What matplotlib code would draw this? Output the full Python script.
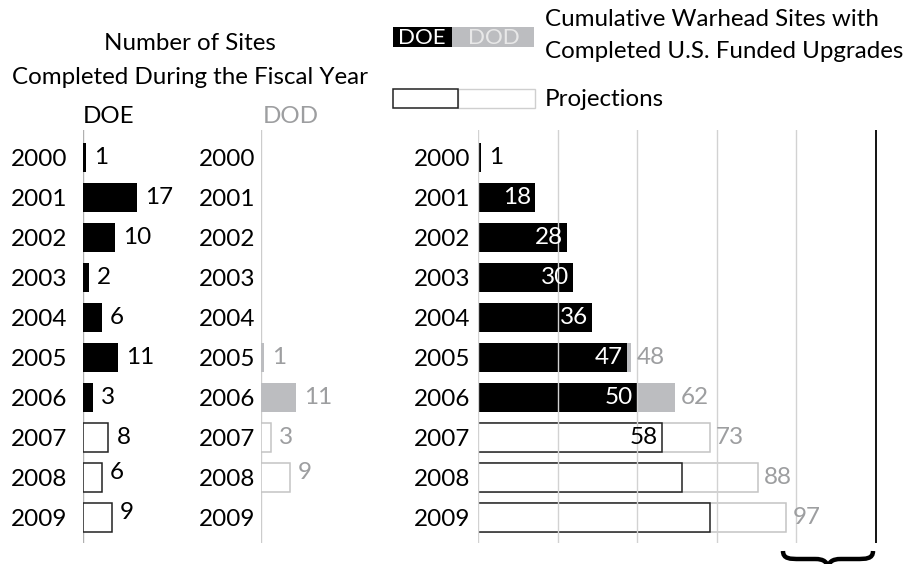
import numpy as np
import matplotlib.pyplot as plt
from matplotlib.patches import Rectangle, PathPatch
from matplotlib.path import Path

plt.rcParams['font.family'] = ['Lato', 'DejaVu Sans']

years = ['2000', '2001', '2002', '2003', '2004', '2005', '2006', '2007', '2008', '2009']
projected = [False, False, False, False, False, False, False, True, True, True]

# sites completed during each fiscal year
doe_annual = [1, 17, 10, 2, 6, 11, 3, 8, 6, 9]
dod_annual = [0, 0, 0, 0, 0, 1, 11, 3, 9, 0]

# cumulative sites (DOE, and DOE + DOD)
doe_cum = [1, 18, 28, 30, 36, 47, 50, 58, 64, 73]
total_cum = [1, 18, 28, 30, 36, 48, 62, 73, 88, 97]

BLACK = '#000000'
GRAY = '#bcbdc0'
GRAY_TXT = '#9d9ea0'
GRID = '#d2d2d2'
FS_NUM = 17.5
FS_TITLE = 17.4

W, H = 910, 564
PX = 3.18  # pixels per site
rows = np.arange(len(years))

fig = plt.figure(figsize=(W / 100, H / 100), dpi=100)


def px_axes(left, width, top=130, bottom=543):
    return fig.add_axes([left / W, 1 - bottom / H, width / W, (bottom - top) / H])


def setup(ax, width, pad):
    ax.set_xlim(0, width / PX)
    ax.set_ylim(9.65, -0.675)
    for s in ax.spines.values():
        s.set_visible(False)
    ax.set_xticks([])
    ax.set_yticks(rows, labels=years)
    ax.tick_params(axis='y', length=0, pad=pad, labelsize=FS_NUM)


def fig_rect(x0, y0, x1, y1, **kw):
    fig.add_artist(Rectangle((x0 / W, 1 - y1 / H), (x1 - x0) / W, (y1 - y0) / H,
                             transform=fig.transFigure, **kw))


# ---- left: DOE annual
ax1 = px_axes(83, 170)
setup(ax1, 170, 11.5)
ax1.axvline(0, color='#b0b0b0', lw=1, zorder=1)
for i, v in enumerate(doe_annual):
    if projected[i]:
        ax1.barh(i, v, height=0.725, color='white', edgecolor='#222222', lw=1.1, zorder=2)
    else:
        ax1.barh(i, v, height=0.725, color=BLACK, zorder=2)
    dy = -0.12 if years[i] in ('2008', '2009') else 0
    ax1.text(v + 2.5, i + dy, str(v), ha='left', va='center', fontsize=FS_NUM, color=BLACK)

# ---- middle: DOD annual
ax2 = px_axes(261, 170)
setup(ax2, 170, 4.3)
ax2.axvline(0, color='#cccccc', lw=1, zorder=1)
for i, v in enumerate(dod_annual):
    if v == 0:
        continue
    if projected[i]:
        ax2.barh(i, v, height=0.725, color='white', edgecolor='#c4c4c4', lw=1.1, zorder=2)
    else:
        ax2.barh(i, v, height=0.725, color=GRAY, zorder=2)
    dy = -0.12 if years[i] in ('2008', '2009') else 0
    ax2.text(v + 2.5, i + dy, str(v), ha='left', va='center', fontsize=FS_NUM, color=GRAY_TXT)

# ---- right: cumulative
ax3 = px_axes(478, 410)
setup(ax3, 410, 5.8)
for g in [0, 25, 50, 75, 100]:
    ax3.axvline(g, color=GRID, lw=1, zorder=4)
ax3.axvline(125, color=BLACK, lw=1.3, zorder=4)
for i in rows:
    d, t = doe_cum[i], total_cum[i]
    if projected[i]:
        ax3.barh(i, t, height=0.725, color='white', edgecolor='#c4c4c4', lw=1.1, zorder=2)
        ax3.barh(i, d, height=0.725, color='white', edgecolor='#222222', lw=1.1, zorder=3)
    else:
        ax3.barh(i, t, height=0.725, color=GRAY, zorder=2)
        ax3.barh(i, d, height=0.725, color=BLACK, zorder=3)
    # the DOE running total is only written through 2007
    if d < 5:
        ax3.text(d + 2.5, i, str(d), ha='left', va='center', fontsize=FS_NUM, color=BLACK, zorder=5)
    elif years[i] <= '2007':
        ax3.text(d - 1.4, i, str(d), ha='right', va='center', fontsize=FS_NUM,
                 color=BLACK if projected[i] else 'white', zorder=5)
    if t > d:
        ax3.text(t + 1.9, i, str(t), ha='left', va='center', fontsize=FS_NUM, color=GRAY_TXT, zorder=5)

# ---- titles and legend
fig.text(190 / W, 1 - 43 / H, 'Number of Sites', ha='center', va='center', fontsize=FS_TITLE)
fig.text(190 / W, 1 - 78 / H, 'Completed During the Fiscal Year', ha='center', va='center',
         fontsize=FS_TITLE)
fig.text(83 / W, 1 - 117 / H, 'DOE', ha='left', va='center', fontsize=FS_TITLE)
fig.text(263 / W, 1 - 117 / H, 'DOD', ha='left', va='center', fontsize=FS_TITLE, color=GRAY_TXT)

fig_rect(393, 27, 452, 47, facecolor=BLACK, edgecolor='none')
fig_rect(452, 27, 534, 47, facecolor=GRAY, edgecolor='none')
fig.text(422 / W, 1 - 37.5 / H, 'DOE', ha='center', va='center', fontsize=16, color='white')
fig.text(494 / W, 1 - 37.5 / H, 'DOD', ha='center', va='center', fontsize=16, color='#e8e8e8')
fig.text(545 / W, 1 - 19 / H, 'Cumulative Warhead Sites with', ha='left', va='center',
         fontsize=FS_TITLE)
fig.text(545 / W, 1 - 51 / H, 'Completed U.S. Funded Upgrades', ha='left', va='center',
         fontsize=FS_TITLE)

fig_rect(458, 89, 535, 108, facecolor='white', edgecolor='#cfcfcf', lw=1)
fig_rect(393, 89, 458, 108, facecolor='white', edgecolor='#222222', lw=1.1)
fig.text(545 / W, 1 - 100 / H, 'Projections', ha='left', va='center', fontsize=FS_TITLE)

# curly brace under the reference line
pts = [(783, 551), (783, 559), (790, 559), (800, 559), (815, 559), (824, 559), (828, 562), (828, 570),
       (873, 551), (873, 559), (866, 559), (856, 559), (841, 559), (832, 559), (828, 562), (828, 570)]
codes = [Path.MOVETO, Path.CURVE4, Path.CURVE4, Path.CURVE4, Path.LINETO,
         Path.CURVE4, Path.CURVE4, Path.CURVE4] * 2
verts = [(x / W, 1 - y / H) for x, y in pts]
fig.add_artist(PathPatch(Path(verts, codes), transform=fig.transFigure, fill=False,
                         edgecolor=BLACK, lw=3.2, capstyle='butt'))

fig.savefig('out.png', dpi=100)
